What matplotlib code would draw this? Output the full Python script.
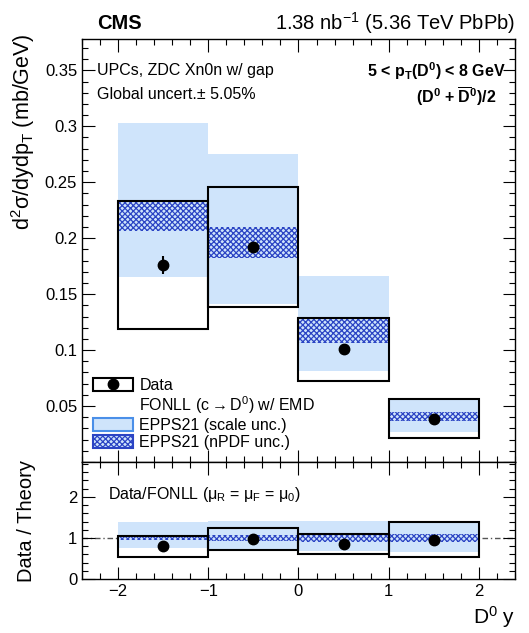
import numpy as np
import matplotlib
matplotlib.use("Agg")
import matplotlib.pyplot as plt
from matplotlib.patches import Rectangle
from matplotlib.lines import Line2D
from matplotlib.legend_handler import HandlerTuple
from matplotlib.ticker import MultipleLocator, FuncFormatter

plt.rcParams['font.family'] = ['Liberation Sans', 'DejaVu Sans']
plt.rcParams['mathtext.fontset'] = 'custom'
plt.rcParams['mathtext.rm'] = 'Liberation Sans'
plt.rcParams['mathtext.it'] = 'Liberation Sans'
plt.rcParams['mathtext.bf'] = 'Liberation Sans:bold'
plt.rcParams['hatch.linewidth'] = 0.9
plt.rcParams['axes.linewidth'] = 1.0

# data
bin_lo = [-2, -1, 0, 1]
bin_hi = [-1, 0, 1, 2]
y_mid = [-1.5, -0.5, 0.5, 1.5]
data_val = [0.176, 0.192, 0.1006, 0.0387]
data_stat = [0.008, 0.004, 0.003, 0.002]
data_syst = [0.057, 0.0535, 0.028, 0.0173]
scale_lo = [0.165, 0.141, 0.081, 0.0268]
scale_hi = [0.303, 0.275, 0.166, 0.0565]
npdf_lo = [0.2065, 0.182, 0.1065, 0.0366]
npdf_hi = [0.233, 0.210, 0.1286, 0.0446]
fonll_central = [0.220, 0.196, 0.1175, 0.0406]

lightblue = '#cfe4fb'
edgeblue = '#4a8fe8'
hatchblue = '#2b44c4'

lo = np.array(bin_lo, float)
hi = np.array(bin_hi, float)
w = hi - lo
mid = np.array(y_mid)
val = np.array(data_val)
stat = np.array(data_stat)
syst = np.array(data_syst)
slo, shi = np.array(scale_lo), np.array(scale_hi)
nlo, nhi = np.array(npdf_lo), np.array(npdf_hi)
cen = np.array(fonll_central)

fig = plt.figure(figsize=(5.29, 6.33), dpi=100)
ax = fig.add_axes([0.155, 0.2701, 0.8185, 0.6683])
axr = fig.add_axes([0.155, 0.0853, 0.8185, 0.1848], sharex=ax)


def draw(a, v, e, s, sl, sh, nl, nh):
    a.bar(mid, sh - sl, bottom=sl, width=w, color=lightblue, lw=0, zorder=1)
    a.bar(mid, nh - nl, bottom=nl, width=w, facecolor=lightblue, edgecolor=hatchblue,
          hatch='xxxxxx', lw=0, zorder=2)
    for i in range(len(mid)):
        a.add_patch(Rectangle((lo[i], v[i] - s[i]), w[i], 2 * s[i], facecolor='none',
                              edgecolor='black', lw=1.5, zorder=3))
    a.errorbar(mid, v, yerr=e, fmt='o', color='black', ms=7.5, elinewidth=1.5, capsize=0,
               zorder=4)


draw(ax, val, stat, syst, slo, shi, nlo, nhi)
draw(axr, val / cen, stat / cen, syst / cen, slo / cen, shi / cen, nlo / cen, nhi / cen)
axr.axhline(1, color='#555555', lw=1, ls=(0, (4, 2, 1, 2)), zorder=0)

for a in (ax, axr):
    a.set_xlim(-2.4, 2.4)
    a.xaxis.set_major_locator(MultipleLocator(1))
    a.xaxis.set_minor_locator(MultipleLocator(0.2))
    a.tick_params(which='both', direction='in', top=True, right=True, labelsize=12, width=0.8)
    a.tick_params(which='major', length=9)
    a.tick_params(which='minor', length=4.5)

ax.set_ylim(0, 0.378)
ax.yaxis.set_major_locator(MultipleLocator(0.05))
ax.yaxis.set_minor_locator(MultipleLocator(0.01))
ax.yaxis.set_major_formatter(FuncFormatter(lambda x, p: '' if abs(x) < 1e-9 else f'{x:g}'))
ax.tick_params(labelbottom=False)

axr.set_ylim(0, 2.85)
axr.yaxis.set_major_locator(MultipleLocator(1))
axr.yaxis.set_minor_locator(MultipleLocator(0.2))
axr.xaxis.set_major_formatter(FuncFormatter(lambda x, p: f'{x:g}'.replace('-', '\u2212')))

ax.set_ylabel(r'd$^{2}$σ/dydp$_{\mathrm{T}}$ (mb/GeV)', fontsize=15.5)
ax.yaxis.set_label_coords(-0.105, 0.78)
axr.set_ylabel('Data / Theory', fontsize=14.5)
axr.yaxis.set_label_coords(-0.106, 0.5)
axr.set_xlabel(r'D$^{0}$ y', fontsize=15, loc='right')

fig.text(0.183, 0.963, 'CMS', fontsize=14.5, fontweight='bold', va='center')
fig.text(0.9735, 0.963, r'1.38 nb$^{-1}$ (5.36 TeV PbPb)', fontsize=14.5, ha='right', va='center')

ax.text(0.035, 0.925, 'UPCs, ZDC Xn0n w/ gap', transform=ax.transAxes, fontsize=11.5, va='center')
ax.text(0.035, 0.868, 'Global uncert.± 5.05%', transform=ax.transAxes, fontsize=11.5, va='center')
ax.text(0.98, 0.925, r'5 < p$_{\mathbf{T}}$(D$^{\mathbf{0}}$) < 8 GeV', transform=ax.transAxes,
        fontsize=11.5, fontweight='bold', ha='right', va='center')
ax.text(0.865, 0.865, r'(D$^{\mathbf{0}}$ + $\mathbf{\overline{D}}^{\mathbf{0}}$)/2', transform=ax.transAxes,
        fontsize=11.5, fontweight='bold', ha='center', va='center')

axr.text(0.06, 0.72, r'Data/FONLL ($\mu_{R}$ = $\mu_{F}$ = $\mu_{0}$)', transform=axr.transAxes,
         fontsize=11.5, va='center')

h_data = (Rectangle((0, 0), 1, 1, facecolor='none', edgecolor='black', lw=1.5),
          Line2D([], [], marker='o', color='black', ls='none', ms=7.5))
h_fonll = Rectangle((0, 0), 1, 1, facecolor='none', edgecolor='none')
h_scale = Rectangle((0, 0), 1, 1, facecolor=lightblue, edgecolor=edgeblue, lw=1.5)
h_npdf = Rectangle((0, 0), 1, 1, facecolor=lightblue, edgecolor=hatchblue, hatch='xxxxxx', lw=1.5)
ax.legend([h_data, h_fonll, h_scale, h_npdf],
          ['Data', r'FONLL (c$\rightarrow$D$^{0}$) w/ EMD', 'EPPS21 (scale unc.)', 'EPPS21 (nPDF unc.)'],
          handler_map={tuple: HandlerTuple(ndivide=1, pad=0)},
          loc='upper left', bbox_to_anchor=(0.0, 0.225), frameon=False, fontsize=11.5,
          handlelength=2.5, handleheight=0.9, labelspacing=0.1, handletextpad=0.4, borderpad=0.2)

fig.savefig('out.png', dpi=100)
